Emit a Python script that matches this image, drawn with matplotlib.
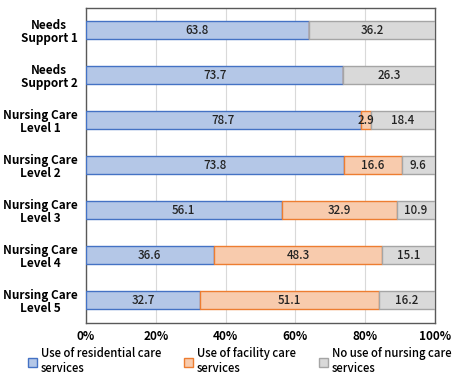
import numpy as np
import matplotlib.pyplot as plt
from matplotlib.patches import Patch

plt.rcParams['font.family'] = ['Noto Sans CJK JP', 'DejaVu Sans']

categories = ['Needs\nSupport 1', 'Needs\nSupport 2', 'Nursing Care\nLevel 1',
              'Nursing Care\nLevel 2', 'Nursing Care\nLevel 3', 'Nursing Care\nLevel 4',
              'Nursing Care\nLevel 5']
residential = [63.8, 73.7, 78.7, 73.8, 56.1, 36.6, 32.7]
facility = [0, 0, 2.9, 16.6, 32.9, 48.3, 51.1]
no_use = [36.2, 26.3, 18.4, 9.6, 10.9, 15.1, 16.2]
series_names = ['Use of residential care\nservices', 'Use of facility care\nservices',
                'No use of nursing care\nservices']

faces = ['#b4c7e7', '#f8cbad', '#d9d9d9']
edges = ['#4472c4', '#ed7d31', '#a5a5a5']

fig = plt.figure(figsize=(4.57, 3.78), dpi=100)
ax = fig.add_axes([0.188, 0.1455, 0.764, 0.8335])

y = np.arange(len(categories))
left = np.zeros(len(categories))
for vals, fc, ec in zip([residential, facility, no_use], faces, edges):
    vals = np.array(vals)
    bars = ax.barh(y, vals, left=left, height=0.4, color=fc, edgecolor=ec, linewidth=1, zorder=3)
    for b, v in zip(bars, vals):
        if v > 0:
            ax.text(b.get_x() + b.get_width() / 2, b.get_y() + b.get_height() / 2, f'{v:.1f}',
                    ha='center', va='center', fontsize=8.3, fontweight='medium', color='#222222', zorder=4)
    left += vals

ax.set_xlim(0, 100)
ax.set_ylim(len(categories) - 0.5, -0.5)
ax.set_yticks(y)
ax.set_yticklabels(categories, fontsize=8.5, fontweight='bold', linespacing=1.05,
                   multialignment='center')
ax.set_xticks(range(0, 101, 20))
ax.set_xticklabels([f'{t}%' for t in range(0, 101, 20)], fontsize=8.5, fontweight='bold')
ax.tick_params(length=0)
ax.tick_params(axis='x', pad=5)
ax.tick_params(axis='y', pad=6)
ax.grid(axis='x', color='#d9d9d9', linewidth=0.8, zorder=0)
for s in ax.spines.values():
    s.set_color('#595959')
    s.set_linewidth(1)

handles = [Patch(facecolor=fc, edgecolor=ec) for fc, ec in zip(faces, edges)]
fig.legend(handles, series_names, loc='lower left', bbox_to_anchor=(0.038, -0.02), ncol=3,
           frameon=False, prop={'weight': 'medium', 'size': 8.2},
           handlelength=0.8, handleheight=0.8, handletextpad=0.35, columnspacing=2.0,
           labelspacing=0.2)

fig.savefig('out.png', dpi=100)
